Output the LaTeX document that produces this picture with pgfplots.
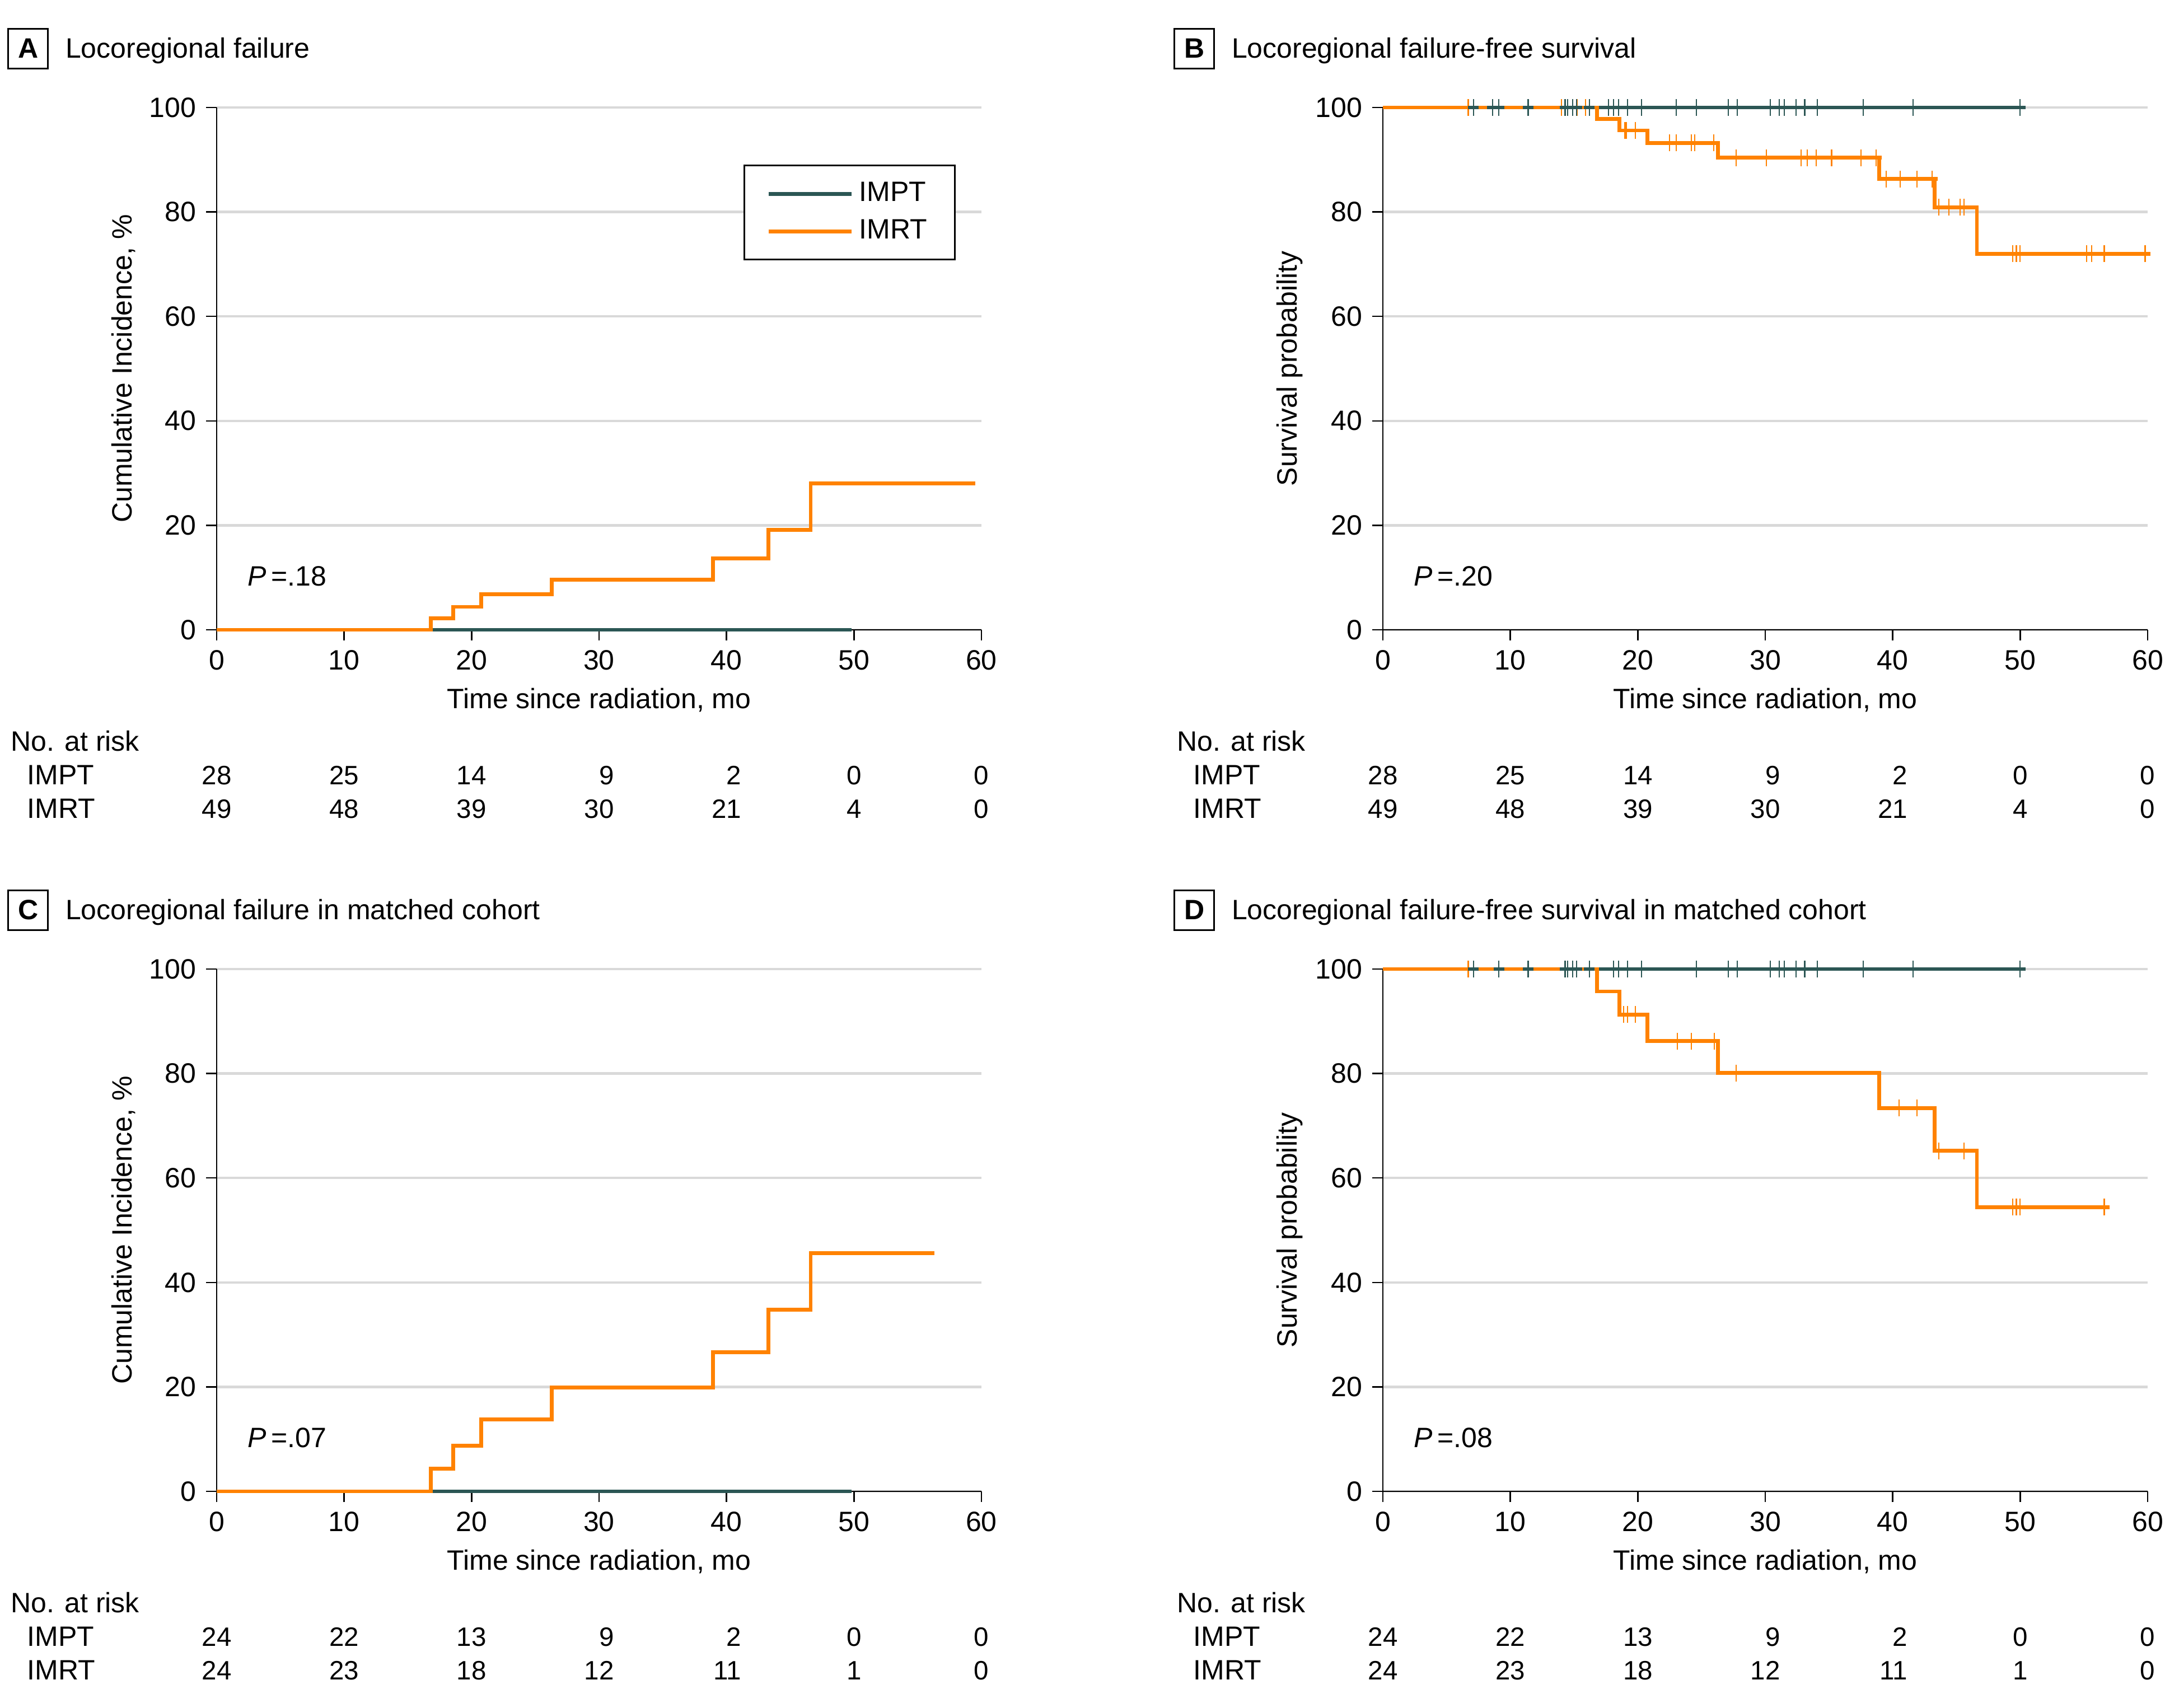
\documentclass[border=0pt]{standalone}
\usepackage{fontspec}
\setmainfont{Liberation Sans}
\usepackage{pgfplots}
\pgfplotsset{compat=1.18}
\definecolor{impt}{HTML}{2B5654}
\definecolor{imrt}{HTML}{FF8200}
\definecolor{gridgray}{HTML}{D9D9D9}

\pgfdeclareplotmark{cens}{%
  \pgfsetlinewidth{0.45pt}%
  \pgfpathmoveto{\pgfqpoint{0pt}{-3pt}}\pgfpathlineto{\pgfqpoint{0pt}{3pt}}\pgfusepathqstroke
  \pgfsetlinewidth{1.35pt}\pgfsetbuttcap
  \pgfpathmoveto{\pgfqpoint{-1.9pt}{0pt}}\pgfpathlineto{\pgfqpoint{1.9pt}{0pt}}\pgfusepathqstroke}

\newcommand{\fs}{\fontsize{10}{12}\selectfont}
\newcommand{\fn}{\fontsize{9.5}{11}\selectfont}

\tikzset{
  rnum/.style={anchor=base, text width=10.6pt, align=right, inner sep=0pt, font=\fn},
  cnum/.style={anchor=base, inner sep=0pt, font=\fn},
  rlab/.style={anchor=base west, inner sep=0pt, font=\fs},
}

\newcommand{\riskrow}[8]{%
  \node[rnum] at (axis cs:0,#1) {#2};
  \node[rnum] at (axis cs:10,#1) {#3};
  \node[rnum] at (axis cs:20,#1) {#4};
  \node[rnum] at (axis cs:30,#1) {#5};
  \node[rnum] at (axis cs:40,#1) {#6};
  \node[cnum] at (axis cs:50,#1) {#7};
  \node[cnum] at (axis cs:60,#1) {#8};
}
\newcommand{\risklabels}{%
  \node[rlab] at (axis cs:-16.2,-23.2) {No. at risk};
  \node[rlab] at (axis cs:-14.9,-29.6) {IMPT};
  \node[rlab] at (axis cs:-14.9,-36.1) {IMRT};
}
\newcommand{\paneltitle}[2]{%
  \node[draw=black, line width=0.6pt, minimum size=14.2pt, inner sep=0pt, font=\fs\bfseries] at (axis cs:-14.8,111.3) {#1};
  \node[rlab] at (axis cs:-11.9,109.5) {#2};
}

\pgfplotsset{
  kmaxis/.style={
    scale only axis, width=273.2pt, height=186.6pt,
    xmin=0, xmax=60, ymin=0, ymax=100,
    axis lines=left, axis line style={-, line width=0.5pt, black},
    xtick={0,10,...,60}, ytick={0,20,...,100},
    ymajorgrids, major grid style={line width=0.9pt, gridgray},
    tick align=outside, major tick length=3.8pt, tick style={line width=0.5pt, black},
    tick label style={font=\fs},
    label style={font=\fs},
    xlabel={Time since radiation, mo},
    xlabel style={at={(axis description cs:0.5,-0.151)}, anchor=base},
    ylabel style={at={(axis description cs:-0.1215,0.5)}, anchor=center},
    clip=false,
    /pgf/number format/assume math mode=true,
    anchor=south west,
  },
  imptline/.style={impt, line width=1.35pt, const plot, no marks},
  imrtline/.style={imrt, line width=1.35pt, const plot, no marks},
}

\begin{document}
\begin{tikzpicture}
\path[use as bounding box] (0,0) rectangle (778.4pt,610pt);

% ---------------- Panel A ----------------
\begin{axis}[kmaxis, at={(77.4pt,385pt)},
  ylabel={Cumulative Incidence, \%},
  legend style={at={(axis cs:58,89.1)}, anchor=north east, draw=black, line width=0.6pt,
    fill=white, font=\fs, inner xsep=8pt, inner ysep=4pt, row sep=1pt},
  legend cell align=left,
  legend image code/.code={\draw[#1, line width=1.4pt] (0pt,0pt) -- (29.6pt,0pt);}]
\addplot[imptline] coordinates {(0,0) (49.8,0)};
\addlegendentry{IMPT}
\addplot[imrtline] coordinates {(0,0) (16.8,2.2) (18.55,4.4) (20.75,6.8) (26.3,9.6) (38.95,13.7) (43.3,19.1) (46.6,28.0) (59.5,28.0)};
\addlegendentry{IMRT}
\node[rlab] at (axis cs:2.4,8.4) {\textit{P}\,=.18};
\paneltitle{A}{Locoregional failure}
\risklabels
\riskrow{-29.6}{28}{25}{14}{9}{2}{0}{0}
\riskrow{-36.1}{49}{48}{39}{30}{21}{4}{0}
\end{axis}

% ---------------- Panel B ----------------
\begin{axis}[kmaxis, at={(494pt,385pt)},
  ylabel={Survival probability}]
\addplot[imptline] coordinates {(0,100) (50.1,100)};
\addplot[imrtline] coordinates {(0,100) (16.8,97.8) (18.55,95.6) (20.75,93.2) (26.3,90.4) (38.95,86.3) (43.3,80.9) (46.6,72.0) (59.8,72.0)};
\addplot[only marks, mark=cens, imrt] coordinates {
  (6.7,100) (14.0,100) (15.25,100) (15.9,100)
  (19.0,95.6) (19.1,95.6) (19.8,95.6)
  (22.5,93.2) (23.0,93.2) (24.2,93.2) (24.45,93.2) (25.95,93.2)
  (27.7,90.4) (30.1,90.4) (32.8,90.4) (33.3,90.4) (34.0,90.4) (35.2,90.4) (37.5,90.4) (38.7,90.4)
  (39.5,86.3) (40.6,86.3) (41.9,86.3) (43.1,86.3)
  (43.6,80.9) (44.4,80.9) (45.3,80.9) (45.6,80.9)
  (49.4,72.0) (49.7,72.0) (50.0,72.0) (55.2,72.0) (55.6,72.0) (56.6,72.0) (59.8,72.0)};
\addplot[only marks, mark=cens, impt] coordinates {
  (7.1,100) (8.6,100) (9.1,100) (11.4,100) (14.3,100) (14.5,100) (14.9,100) (15.2,100)
  (16.2,100) (17.7,100) (18.1,100) (18.5,100) (19.2,100) (20.3,100) (23.0,100) (24.6,100)
  (27.1,100) (27.8,100) (30.4,100) (31.1,100) (31.5,100) (32.4,100) (33.1,100) (34.1,100)
  (37.7,100) (41.6,100) (50.0,100)};
\node[rlab] at (axis cs:2.4,8.4) {\textit{P}\,=.20};
\paneltitle{B}{Locoregional failure-free survival}
\risklabels
\riskrow{-29.6}{28}{25}{14}{9}{2}{0}{0}
\riskrow{-36.1}{49}{48}{39}{30}{21}{4}{0}
\end{axis}

% ---------------- Panel C ----------------
\begin{axis}[kmaxis, at={(77.4pt,77.2pt)},
  ylabel={Cumulative Incidence, \%}]
\addplot[imptline] coordinates {(0,0) (49.8,0)};
\addplot[imrtline] coordinates {(0,0) (16.8,4.35) (18.55,8.7) (20.75,13.8) (26.3,19.9) (38.95,26.6) (43.3,34.8) (46.6,45.6) (56.3,45.6)};
\node[rlab] at (axis cs:2.4,8.4) {\textit{P}\,=.07};
\paneltitle{C}{Locoregional failure in matched cohort}
\risklabels
\riskrow{-29.6}{24}{22}{13}{9}{2}{0}{0}
\riskrow{-36.1}{24}{23}{18}{12}{11}{1}{0}
\end{axis}

% ---------------- Panel D ----------------
\begin{axis}[kmaxis, at={(494pt,77.2pt)},
  ylabel={Survival probability}]
\addplot[imptline] coordinates {(0,100) (50.1,100)};
\addplot[imrtline] coordinates {(0,100) (16.8,95.7) (18.55,91.3) (20.75,86.2) (26.3,80.1) (38.95,73.4) (43.3,65.2) (46.6,54.4) (56.7,54.4)};
\addplot[only marks, mark=cens, imrt] coordinates {
  (6.7,100)
  (18.9,91.3) (19.2,91.3) (19.8,91.3)
  (23.1,86.2) (24.2,86.2) (26.0,86.2)
  (27.7,80.1)
  (40.5,73.4) (41.9,73.4)
  (43.6,65.2) (45.6,65.2)
  (49.4,54.4) (49.7,54.4) (50.0,54.4) (56.6,54.4)};
\addplot[only marks, mark=cens, impt] coordinates {
  (7.1,100) (9.1,100) (11.4,100) (14.3,100) (14.5,100) (14.9,100) (15.2,100) (16.2,100)
  (18.1,100) (18.5,100) (19.2,100) (20.3,100) (24.6,100) (27.1,100) (27.8,100) (30.4,100)
  (31.1,100) (31.5,100) (32.4,100) (33.1,100) (34.1,100) (37.7,100) (41.6,100) (50.0,100)};
\node[rlab] at (axis cs:2.4,8.4) {\textit{P}\,=.08};
\paneltitle{D}{Locoregional failure-free survival in matched cohort}
\risklabels
\riskrow{-29.6}{24}{22}{13}{9}{2}{0}{0}
\riskrow{-36.1}{24}{23}{18}{12}{11}{1}{0}
\end{axis}
\end{tikzpicture}
\end{document}
